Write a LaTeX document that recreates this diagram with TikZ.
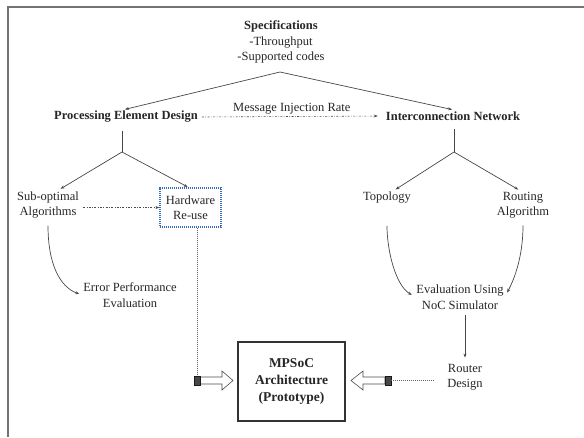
\documentclass[tikz,border=0pt]{standalone}
\usepackage{fontspec}
\setmainfont{Liberation Serif}
\usetikzlibrary{arrows.meta}
\definecolor{hwblue}{RGB}{55,105,190}
\begin{document}
\begin{tikzpicture}[x=1pt,y=-1pt,
  every node/.style={font=\fontsize{12.5}{15.5}\selectfont, text=black!85, align=center, inner sep=1pt},
  bf/.style={font=\fontsize{12.5}{15.5}\selectfont\bfseries},
  tip/.style={-{Stealth[length=4pt,width=3pt]}},
  conn/.style={draw=black!72, line width=0.7pt, tip},
  plain/.style={draw=black!72, line width=0.7pt},
  dd/.style={draw=black!70, line width=0.6pt, dash pattern=on 2pt off 1.5pt on 0.6pt off 1.5pt},
  dotv/.style={draw=black!60, line width=0.7pt, dash pattern=on 1pt off 1pt},
  hwbox/.style={draw=hwblue, line width=1.2pt, dash pattern=on 1.2pt off 0.8pt, minimum width=61pt, minimum height=39pt},
  mpbox/.style={draw=black!80, line width=1.1pt, minimum width=107pt, minimum height=79pt, font=\fontsize{13.5}{17}\selectfont\bfseries},
  hollow/.style={draw=black!70, line width=0.6pt, fill=white},
  plug/.style={draw=black!90, fill=black!72, line width=0.5pt}
]
\useasboundingbox (0,0) rectangle (584,437);
\draw[black!55, line width=1.5pt] (584,7) -- (8,7) -- (8,437);

\node (spec) at (281,42) {\textbf{Specifications}\\-Throughput\\-Supported codes};
\coordinate (sa) at (280,72);
\node[bf] (ped) at (126,117) {Processing Element Design};
\node[bf] (icn) at (453,116) {Interconnection Network};
\draw[conn, shorten >=3pt] (sa) -- ([xshift=-4pt]ped.north);
\draw[conn, shorten >=4pt] (sa) -- ([xshift=3pt]icn.north);
\draw[dd, tip, shorten <=3pt, shorten >=7pt] (ped.east) -- node[midway, above=1pt] {Message Injection Rate} (icn.west);

\coordinate (pa) at (122,152);
\coordinate (pb) at (454,152);
\draw[plain, shorten <=7pt] (pa |- ped.south) -- (pa);
\draw[plain, shorten <=7pt] (pb |- icn.south) -- (pb);

\node (sub) at (48,205) {Sub-optimal\\Algorithms};
\node[hwbox] (hw) at (190.5,207.5) {Hardware\\Re-use};
\node (top) at (387,198) {Topology};
\node (rout) at (523,205) {Routing\\Algorithm};

\draw[conn, shorten >=3pt] (pa) -- ([xshift=10pt]sub.north);
\draw[conn, shorten >=1pt] (pa) -- ([xshift=-2pt]hw.north);
\draw[conn, shorten >=3pt] (pb) -- ([xshift=6pt]top.north);
\draw[conn, shorten >=2pt] (pb) -- ([xshift=-3pt]rout.north);

\draw[dd, tip, shorten <=3pt] (sub.east |- hw.west) -- (hw.west);

\node (err) at (130,295) {Error Performance\\Evaluation};
\node (eval) at (460,297) {Evaluation Using\\NoC Simulator};
\node (router) at (465,377) {Router\\Design};

\draw[conn, shorten <=6pt, shorten >=3pt] (sub.south) .. controls +(0,45) and +(-22,-8) .. (err.west);
\draw[conn, shorten <=21pt, shorten >=4pt] (top.south) .. controls +(0,45) and +(-20,-12) .. (eval.west);
\draw[conn, shorten <=6pt, shorten >=5pt] (rout.south) .. controls +(0,40) and +(8,-15) .. (eval.east);
\draw[conn, shorten <=5pt] (router.north |- eval.south) -- ([yshift=5pt]router.north);

\node[mpbox] (mp) at (291.5,381.5) {MPSoC\\Architecture\\(Prototype)};

% left block arrow
\coordinate (ls) at (197,376);
\draw[dotv] (hw.south -| ls) -- (ls);
\draw[hollow] (200,377) -- (222,377) -- (222,371) -- (233,380.5) -- (222,390) -- (222,384) -- (200,384) -- cycle;
\draw[plug] (194,376) rectangle (200,385);

% right block arrow
\coordinate (rb) at (391,380.5);
\draw[hollow] (385,377) -- (363,377) -- (363,371) -- (351,380.5) -- (363,390) -- (363,384) -- (385,384) -- cycle;
\draw[plug] (385,376) rectangle (391,385);
\draw[dotv, shorten <=12pt] (router.west |- rb) -- (rb);
\end{tikzpicture}
\end{document}
